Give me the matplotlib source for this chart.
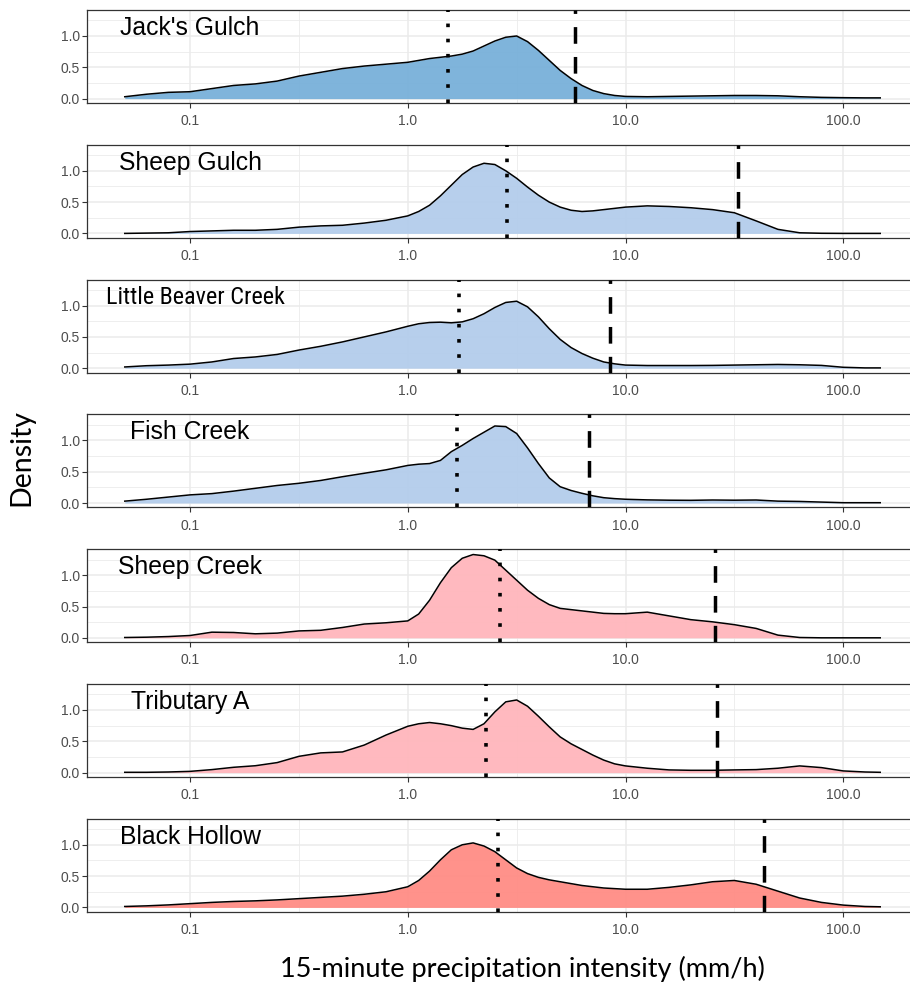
"""
Stacked density panels of 15-minute precipitation intensity, one per
watershed, with dotted and dashed reference lines.
"""
import matplotlib
matplotlib.use("Agg")
import matplotlib.pyplot as plt
import numpy as np


SITES = ["Jack's Gulch", "Sheep Gulch", "Little Beaver Creek", "Fish Creek",
         "Sheep Creek", "Tributary A", "Black Hollow"]

# sampling grid of the density curves, log10(mm/h)
GRID_LOG10 = [-1.3, -1.2, -1.1, -1.0, -0.9, -0.8, -0.7, -0.6, -0.5, -0.4,
              -0.3, -0.2, -0.1,
              0.0, 0.05, 0.1, 0.15, 0.2, 0.25, 0.3, 0.35, 0.4, 0.45, 0.5,
              0.55, 0.6, 0.65, 0.7, 0.75, 0.8, 0.85, 0.9, 0.95, 1.0,
              1.1, 1.2, 1.3, 1.4, 1.5, 1.6, 1.7, 1.8, 1.9, 2.0, 2.1, 2.17]

JACKS_GULCH = [0.03, 0.07, 0.1, 0.11, 0.16, 0.21, 0.235, 0.28, 0.36, 0.42,
               0.48, 0.52, 0.55,
               0.58, 0.61, 0.64, 0.66, 0.68, 0.71, 0.76, 0.84, 0.92, 0.98,
               1.0, 0.91, 0.77, 0.61, 0.45, 0.32, 0.21, 0.13, 0.08, 0.05,
               0.035,
               0.03, 0.035, 0.04, 0.045, 0.05, 0.05, 0.045, 0.03, 0.02,
               0.015, 0.012, 0.012]
SHEEP_GULCH = [0.0, 0.005, 0.01, 0.03, 0.04, 0.05, 0.05, 0.065, 0.1, 0.12,
               0.13, 0.165, 0.21,
               0.28, 0.35, 0.45, 0.6, 0.77, 0.94, 1.06, 1.12, 1.1, 1.0,
               0.88, 0.74, 0.61, 0.5, 0.42, 0.37, 0.35, 0.36, 0.38, 0.4,
               0.42,
               0.44, 0.43, 0.41, 0.38, 0.33, 0.2, 0.065, 0.01, 0.002, 0.0,
               0.0, 0.0]
LITTLE_BEAVER = [0.02, 0.04, 0.05, 0.065, 0.1, 0.155, 0.18, 0.22, 0.29,
                 0.35, 0.42, 0.5, 0.58,
                 0.67, 0.71, 0.73, 0.735, 0.725, 0.74, 0.79, 0.87, 0.97,
                 1.05, 1.07, 0.98, 0.82, 0.63, 0.46, 0.33, 0.235, 0.16, 0.1,
                 0.07, 0.05,
                 0.043, 0.043, 0.043, 0.045, 0.05, 0.055, 0.06, 0.055, 0.045,
                 0.015, 0.005, 0.005]
FISH_CREEK = [0.03, 0.06, 0.095, 0.13, 0.15, 0.19, 0.235, 0.28, 0.315, 0.36,
              0.42, 0.475, 0.53,
              0.6, 0.62, 0.63, 0.68, 0.82, 0.92, 1.03, 1.13, 1.23, 1.22,
              1.11, 0.88, 0.63, 0.4, 0.26, 0.2, 0.155, 0.115, 0.085, 0.07,
              0.06,
              0.05, 0.045, 0.043, 0.048, 0.045, 0.048, 0.03, 0.025, 0.015,
              0.005, 0.005, 0.005]
SHEEP_CREEK = [0.005, 0.01, 0.02, 0.037, 0.09, 0.085, 0.064, 0.075, 0.11,
               0.12, 0.165, 0.22, 0.24,
               0.27, 0.38, 0.6, 0.88, 1.12, 1.27, 1.33, 1.31, 1.24, 1.08,
               0.92, 0.76, 0.63, 0.53, 0.47, 0.45, 0.43, 0.41, 0.39, 0.385,
               0.385,
               0.41, 0.35, 0.29, 0.255, 0.21, 0.15, 0.043, 0.005, 0.0, 0.0,
               0.0, 0.0]
TRIBUTARY_A = [0.005, 0.005, 0.01, 0.02, 0.048, 0.085, 0.11, 0.16, 0.26,
               0.315, 0.33, 0.44, 0.6,
               0.74, 0.78, 0.8, 0.78, 0.75, 0.71, 0.69, 0.78, 0.97, 1.13,
               1.16, 1.06, 0.9, 0.73, 0.57, 0.46, 0.37, 0.28, 0.2, 0.14,
               0.107,
               0.07, 0.043, 0.037, 0.037, 0.043, 0.048, 0.07, 0.107, 0.08,
               0.027, 0.01, 0.005]
BLACK_HOLLOW = [0.015, 0.025, 0.04, 0.06, 0.08, 0.095, 0.105, 0.12, 0.14,
                0.16, 0.18, 0.21, 0.25,
                0.33, 0.43, 0.58, 0.76, 0.92, 1.0, 1.03, 0.98, 0.89, 0.76,
                0.63, 0.54, 0.48, 0.44, 0.41, 0.38, 0.35, 0.33, 0.31, 0.3,
                0.29,
                0.29, 0.32, 0.36, 0.41, 0.43, 0.37, 0.26, 0.15, 0.08, 0.037,
                0.015, 0.01]

DENSITIES = [JACKS_GULCH, SHEEP_GULCH, LITTLE_BEAVER, FISH_CREEK,
             SHEEP_CREEK, TRIBUTARY_A, BLACK_HOLLOW]

# dotted and dashed reference intensities (mm/h)
DOTTED = [1.53, 2.87, 1.71, 1.68, 2.65, 2.29, 2.59]
DASHED = [5.88, 32.7, 8.48, 6.78, 25.7, 26.4, 43.4]

FILLS = ["#78B0D9", "#B3CDEB", "#B3CDEB", "#B3CDEB",
         "#FFB6BC", "#FFB6BC", "#FF8C85"]

XTICKS = [0.1, 1.0, 10.0, 100.0]
XTICK_LABELS = ["0.1", "1.0", "10.0", "100.0"]
YTICKS = [0.0, 0.5, 1.0]
YTICK_LABELS = ["0.0", "0.5", "1.0"]

W, H = 910, 984
# the long name is squeezed into a narrower face in the original
NARROW = "Little Beaver Creek"


def styleAxis(ax):
    ax.set_xscale("log")
    ax.set_xlim(10 ** -1.4735, 10 ** 2.3435)
    ax.set_ylim(-0.07, 1.415)
    ax.set_facecolor("white")
    ax.minorticks_off()
    for x in XTICKS:
        ax.axvline(x, color="#EBEBEB", lw=1.1, zorder=0)
    for x in [10 ** -0.5, 10 ** 0.5, 10 ** 1.5]:
        ax.axvline(x, color="#EBEBEB", lw=0.6, zorder=0)
    for y in YTICKS:
        ax.axhline(y, color="#EBEBEB", lw=1.1, zorder=0)
    for y in [0.25, 0.75, 1.25]:
        ax.axhline(y, color="#EBEBEB", lw=0.6, zorder=0)
    ax.set_xticks(XTICKS)
    ax.set_xticklabels(XTICK_LABELS, family="Liberation Sans")
    ax.set_yticks(YTICKS)
    ax.set_yticklabels(YTICK_LABELS, family="Liberation Sans")
    ax.tick_params(axis="both", colors="#333333", labelcolor="#4D4D4D",
                   labelsize=10, length=3.5, width=0.8)
    ax.tick_params(axis="x", pad=4.5)
    ax.tick_params(axis="y", pad=1.5)
    for spine in ax.spines.values():
        spine.set_color("#333333")
        spine.set_linewidth(0.9)


def drawPanel(ax, name, density, dotted, dashed, fill):
    styleAxis(ax)
    x = 10 ** np.array(GRID_LOG10)
    y = np.array(density)
    ax.fill_between(x, 0, y, color=fill, alpha=0.95, lw=0, zorder=2)
    ax.plot(x, y, color="black", lw=1.1, zorder=3, solid_joinstyle="round")
    lo, hi = ax.get_ylim()
    ax.plot([dotted, dotted], [lo, hi], color="black", lw=2.6,
            linestyle=(0, (1, 3.2)), dash_capstyle="butt", zorder=4)
    ax.plot([dashed, dashed], [lo, hi], color="black", lw=2.5,
            linestyle=(0, (4.8, 3.8)), dash_capstyle="butt", zorder=4)
    if name == NARROW:
        family, size, xpos = ["Roboto Condensed", "Roboto"], 17.4, 0.106
    else:
        family, size, xpos = ["Liberation Sans"], 17.8, 0.1
    ax.text(xpos, 1.02, name, ha="center", va="baseline", fontsize=size,
            family=family, color="black", zorder=5)


def main():
    fig = plt.figure(figsize=(W / 100, H / 100), dpi=100)
    left, right = 87, 918
    for i, name in enumerate(SITES):
        top = 10 + 134.8 * i
        bottom = top + 93
        ax = fig.add_axes([left / W, 1 - bottom / H, (right - left) / W,
                           (bottom - top) / H])
        drawPanel(ax, name, DENSITIES[i], DOTTED[i], DASHED[i], FILLS[i])

    fig.text(21 / W, 1 - 458 / H, "Density", rotation=90, ha="center",
             va="center", fontsize=20.5, family="Lato")
    fig.text(522 / W, 1 - 969 / H, "15-minute precipitation intensity (mm/h)",
             ha="center", va="center", fontsize=19.5, family="Lato")
    fig.savefig("out.png", dpi=100)


if __name__ == "__main__":
    main()
